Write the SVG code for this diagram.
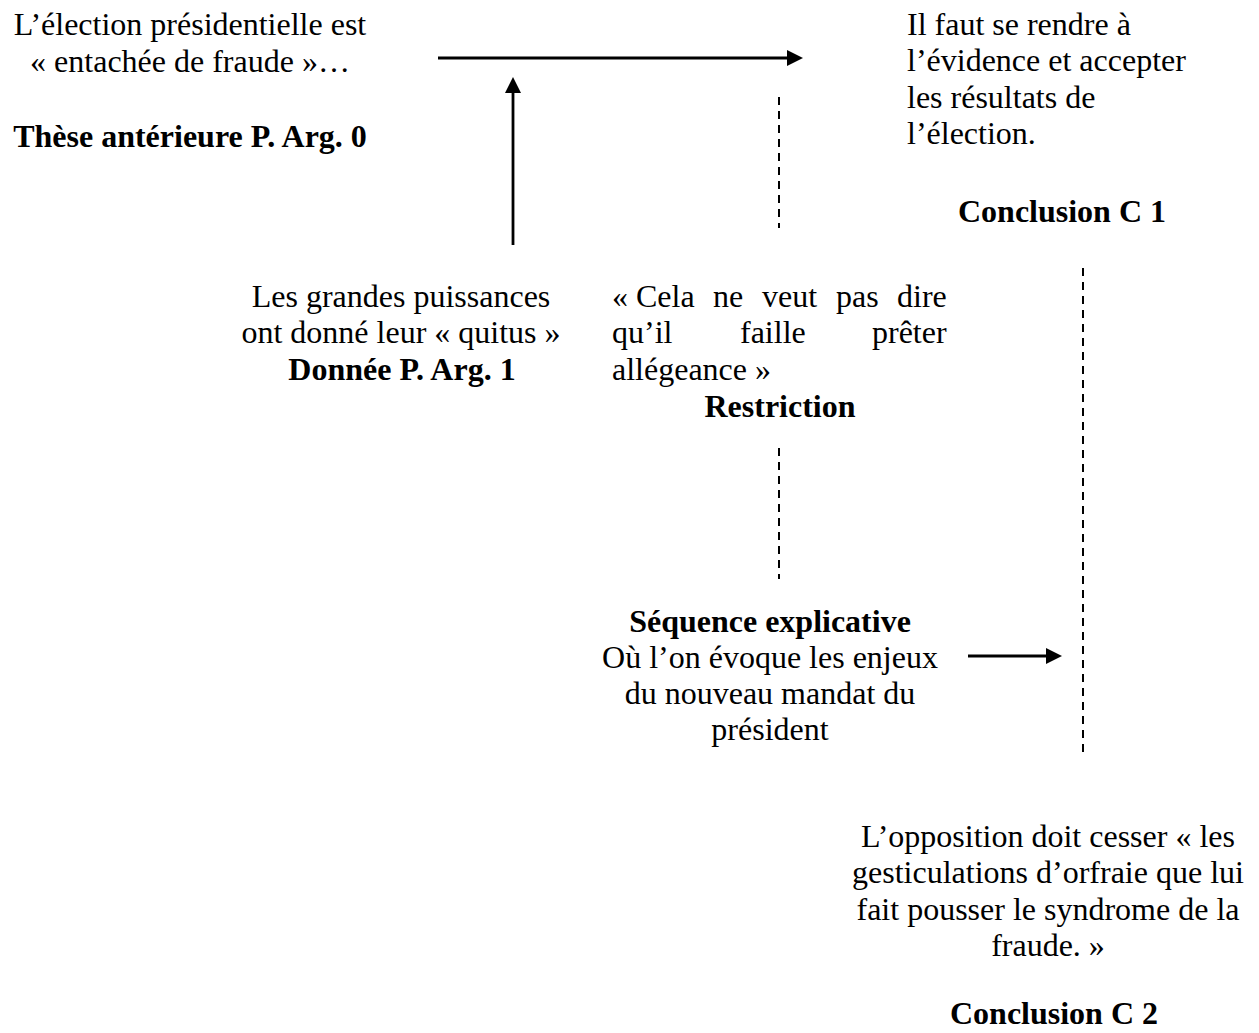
<svg xmlns="http://www.w3.org/2000/svg" width="1259" height="1033" viewBox="0 0 1259 1033">
<style>
text{font-family:"Liberation Serif","Times New Roman",serif;font-size:32px;fill:#000}
.b{font-weight:bold}
.c{text-anchor:middle}
.arrow{stroke:#000;stroke-width:2.8;fill:none}
.dash{stroke:#000;stroke-width:2;stroke-dasharray:8 6;fill:none}
</style>
<defs>
<marker id="ah" viewBox="0 0 16 16" refX="0" refY="8" markerWidth="16" markerHeight="16" markerUnits="userSpaceOnUse" orient="auto">
<path d="M0,0 L16,8 L0,16 Z" fill="#000"/>
</marker>
</defs>
<rect width="1259" height="1033" fill="#fff"/>
<g id="connectors">
<line class="arrow" x1="438" y1="58" x2="787" y2="58" marker-end="url(#ah)"/>
<line class="arrow" x1="513" y1="245" x2="513" y2="93" marker-end="url(#ah)"/>
<line class="arrow" x1="968" y1="656" x2="1046" y2="656" marker-end="url(#ah)"/>
<line class="dash" x1="779" y1="97" x2="779" y2="228"/>
<line class="dash" x1="779" y1="448" x2="779" y2="579"/>
<line class="dash" x1="1083" y1="268" x2="1083" y2="753"/>
</g>
<g id="these">
<text class="c" x="190" y="35">L’élection présidentielle est</text>
<text class="c" x="190" y="72">« entachée de fraude »…</text>
<text class="c b" x="190" y="147">Thèse antérieure P. Arg. 0</text>
</g>
<g id="conclusion1">
<text x="907" y="35">Il faut se rendre à</text>
<text x="907" y="71">l’évidence et accepter</text>
<text x="907" y="108">les résultats de</text>
<text x="907" y="144">l’élection.</text>
<text class="c b" x="1062" y="222">Conclusion C 1</text>
</g>
<g id="donnee">
<text class="c" x="401" y="307">Les grandes puissances</text>
<text class="c" x="401" y="343">ont donné leur « quitus »</text>
<text class="c b" x="402" y="380">Donnée P. Arg. 1</text>
</g>
<g id="restriction">
<text y="307"><tspan x="612">« Cela</tspan><tspan x="713">ne</tspan><tspan x="762">veut</tspan><tspan x="836">pas</tspan><tspan x="897">dire</tspan></text>
<text y="343"><tspan x="612">qu’il</tspan><tspan x="740">faille</tspan><tspan x="872">prêter</tspan></text>
<text x="612" y="380">allégeance »</text>
<text class="c b" x="780" y="417">Restriction</text>
</g>
<g id="sequence">
<text class="c b" x="770" y="632">Séquence explicative</text>
<text class="c" x="770" y="668">Où l’on évoque les enjeux</text>
<text class="c" x="770" y="704">du nouveau mandat du</text>
<text class="c" x="770" y="740">président</text>
</g>
<g id="conclusion2">
<text class="c" x="1048" y="847">L’opposition doit cesser « les</text>
<text class="c" x="1048" y="883">gesticulations d’orfraie que lui</text>
<text class="c" x="1048" y="920">fait pousser le syndrome de la</text>
<text class="c" x="1048" y="956">fraude. »</text>
<text class="c b" x="1054" y="1024">Conclusion C 2</text>
</g>
</svg>
